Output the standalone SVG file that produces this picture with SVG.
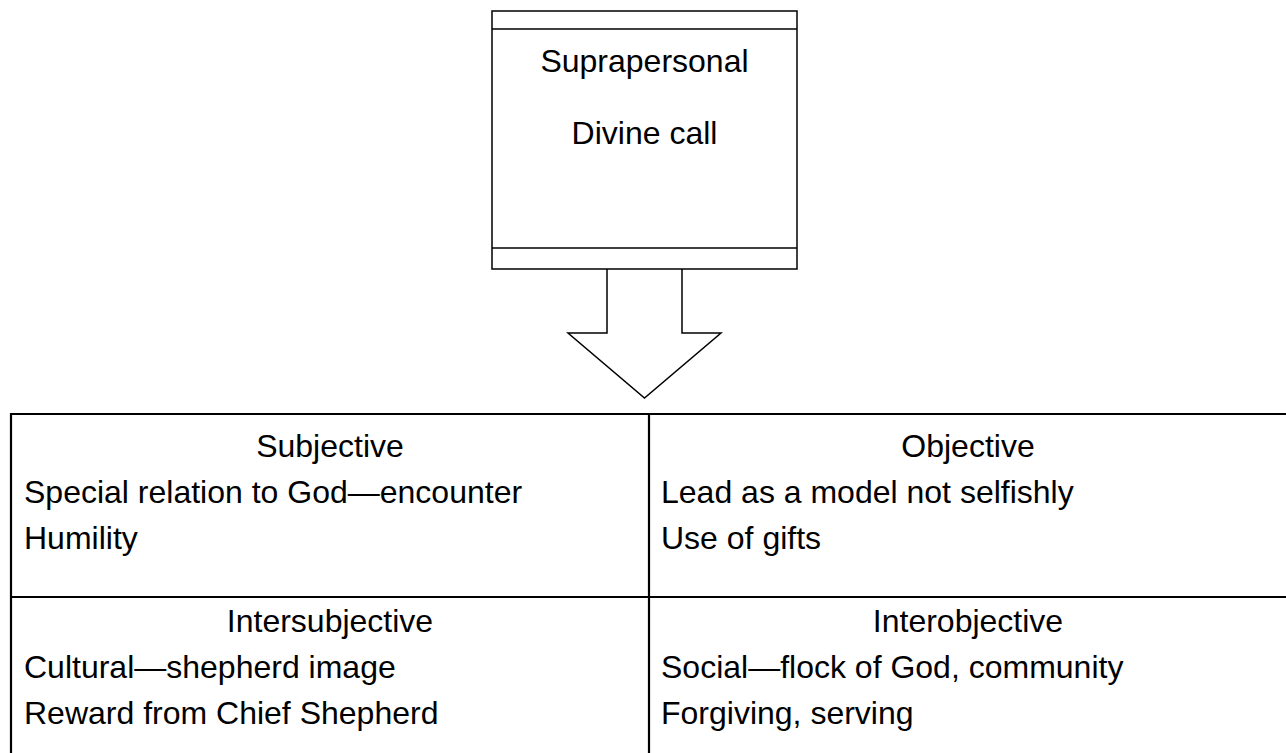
<svg xmlns="http://www.w3.org/2000/svg" width="1286" height="753" viewBox="0 0 1286 753">
<style>
.t{font-family:"Liberation Sans",Arial,sans-serif;font-size:32px;fill:#000}
.c{text-anchor:middle}
.box{fill:#fff;stroke:#000;stroke-width:1.5}
.tbl{fill:none;stroke:#000;stroke-width:2.2}
</style>
<rect width="1286" height="753" fill="#fff"/>
<g id="connectors">
<path class="box" d="M607,269 V333 H568 L644.5,398 L721,333 H682 V269"/>
</g>
<g id="suprapersonal">
<rect class="box" x="492" y="11" width="305" height="258"/>
<line class="box" x1="492" y1="29" x2="797" y2="29"/>
<line class="box" x1="492" y1="248" x2="797" y2="248"/>
<text class="t c" x="644.5" y="72">Suprapersonal</text>
<text class="t c" x="644.5" y="144">Divine call</text>
</g>
<g id="table">
<path class="tbl" d="M1290,414 H11 V760 M11,597 H1290 M649,414 V760"/>
</g>
<g id="subjective">
<text class="t c" x="330" y="457">Subjective</text>
<text class="t" x="24" y="503">Special relation to God—encounter</text>
<text class="t" x="24" y="549">Humility</text>
</g>
<g id="objective">
<text class="t c" x="968" y="457">Objective</text>
<text class="t" x="661" y="503">Lead as a model not selfishly</text>
<text class="t" x="661" y="549">Use of gifts</text>
</g>
<g id="intersubjective">
<text class="t c" x="330" y="632">Intersubjective</text>
<text class="t" x="24" y="678">Cultural—shepherd image</text>
<text class="t" x="24" y="724">Reward from Chief Shepherd</text>
</g>
<g id="interobjective">
<text class="t c" x="968" y="632">Interobjective</text>
<text class="t" x="661" y="678">Social—flock of God, community</text>
<text class="t" x="661" y="724">Forgiving, serving</text>
</g>
</svg>
